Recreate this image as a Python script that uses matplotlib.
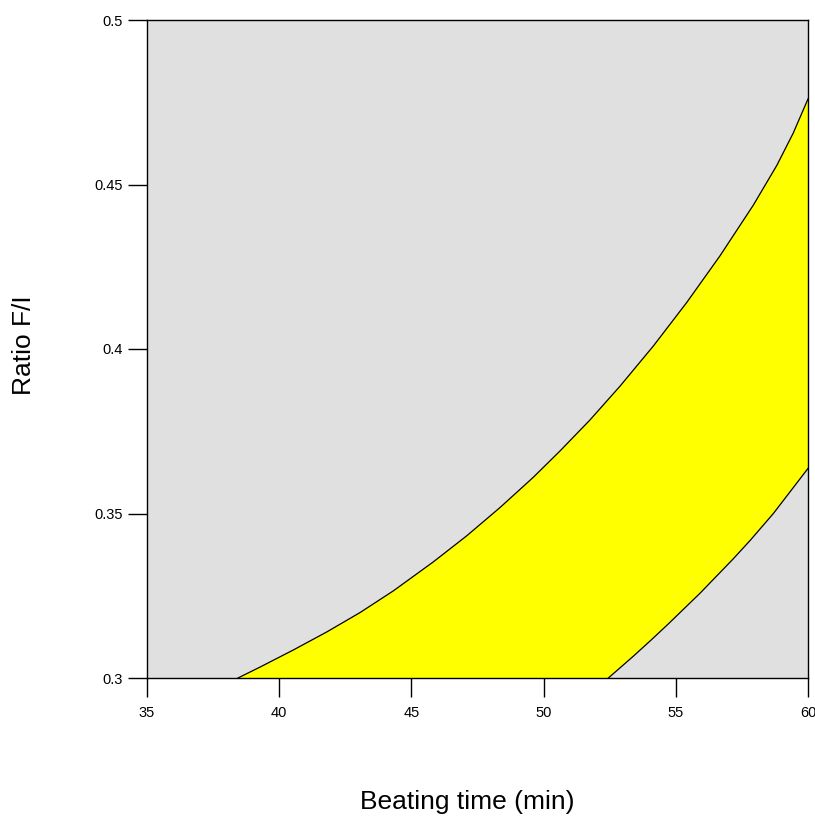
import matplotlib
matplotlib.use('Agg')
import matplotlib.pyplot as plt
import numpy as np

plt.rcParams['font.family'] = ['Liberation Sans', 'DejaVu Sans']

# upper edge of the yellow band
upper_x = [38.44, 39.27, 40.53, 41.80, 43.06, 44.32, 45.83, 47.09, 48.35, 49.61,
           50.62, 51.75, 52.89, 54.15, 55.41, 56.67, 57.93, 58.82, 59.44, 60.0]
upper_y = [0.3000, 0.3033, 0.3085, 0.3140, 0.3199, 0.3265, 0.3353, 0.3432, 0.3518, 0.3610,
           0.3690, 0.3784, 0.3887, 0.4009, 0.4141, 0.4283, 0.4437, 0.4558, 0.4656, 0.4760]
# lower edge of the yellow band
lower_x = [52.45, 53.39, 54.02, 54.66, 55.92, 57.17, 57.81, 58.69, 60.0]
lower_y = [0.3000, 0.3066, 0.3112, 0.3160, 0.3258, 0.3362, 0.3418, 0.3500, 0.3637]

x_ticks = [35, 40, 45, 50, 55, 60]
y_ticks = [0.3, 0.35, 0.4, 0.45, 0.5]
y_ticklabels = ['0.3', '0.35', '0.4', '0.45', '0.5']

fig = plt.figure(figsize=(8.15, 8.16), dpi=100)
ax = fig.add_axes([147/815, 1-678/816, 661/815, 658/816])
ax.set_facecolor('#e0e0e0')

# band polygon: along upper curve, down the right edge, back along lower curve
poly_x = np.concatenate([upper_x, lower_x[::-1]])
poly_y = np.concatenate([upper_y, lower_y[::-1]])
ax.fill(poly_x, poly_y, color='#ffff00', lw=0, zorder=2)
ax.plot(upper_x, upper_y, color='black', lw=0.9, zorder=3, solid_joinstyle='round')
ax.plot(lower_x, lower_y, color='black', lw=0.9, zorder=3, solid_joinstyle='round')

ax.set_xlim(35, 60)
ax.set_ylim(0.3, 0.5)
ax.set_xticks(x_ticks)
ax.set_yticks(y_ticks)
ax.set_yticklabels(y_ticklabels)
ax.tick_params(direction='out', length=13.7, width=1, labelsize=10.5)
ax.tick_params(axis='x', pad=6.5)
ax.tick_params(axis='y', pad=4)
for s in ax.spines.values():
    s.set_linewidth(1)
    s.set_zorder(4)

fig.text(467/815, 1 - 802/816, 'Beating time (min)', ha='center', va='center', fontsize=19)
fig.text(24/815, 1 - 345/816, 'Ratio F/I', ha='center', va='center', rotation=90, fontsize=19)

plt.savefig('out.png', dpi=100)
